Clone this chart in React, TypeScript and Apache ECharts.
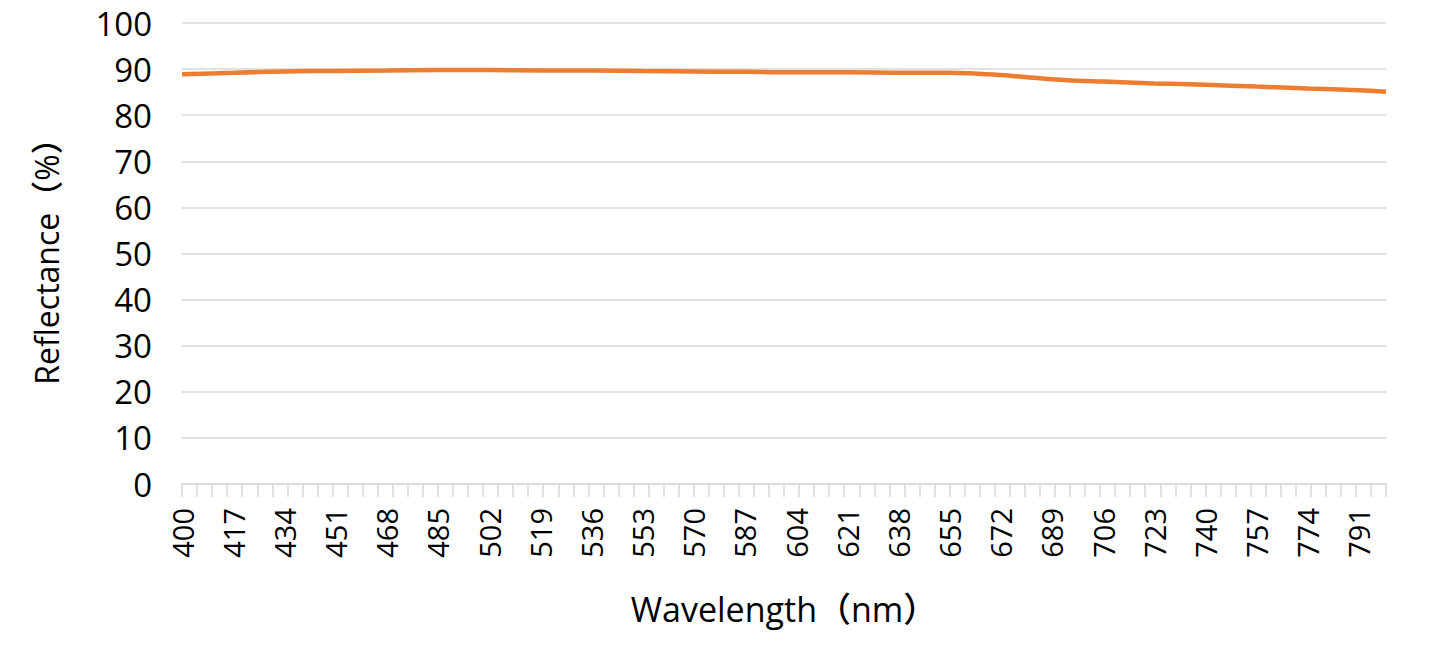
import React, { useEffect, useRef } from "react";
import * as echarts from "echarts";

const wavelengths: string[] = [];
for (let nm = 400; nm <= 800; nm++) wavelengths.push(String(nm));

const sampleNm = [400, 417, 434, 451, 468, 485, 502, 519, 536, 553, 570, 587, 604, 621, 638, 655, 672, 685, 694, 706, 723, 740, 757, 774, 791, 800];
const reflectance = [88.9, 89.2, 89.5, 89.6, 89.7, 89.8, 89.8, 89.7, 89.7, 89.6, 89.5, 89.4, 89.3, 89.3, 89.2, 89.2, 88.7, 88.0, 87.6, 87.3, 86.9, 86.6, 86.2, 85.8, 85.4, 85.1];

const yMin = 0;
const yMax = 100;
const yStep = 10;

export default function App() {
  const ref = useRef<HTMLDivElement>(null);
  useEffect(() => {
    if (!ref.current) return;
    const chart = echarts.init(ref.current, null, { renderer: "svg" });
    const font = "'Open Sans', 'Noto Sans CJK SC', sans-serif";
    chart.setOption({
      animation: false,
      backgroundColor: "#ffffff",
      grid: { left: 182, right: 52, top: 23, bottom: 166, containLabel: false },
      xAxis: {
        type: "category",
        data: wavelengths,
        boundaryGap: false,
        name: "Wavelength（nm）",
        nameLocation: "middle",
        nameGap: 108,
        nameTextStyle: { fontFamily: font, fontSize: 34, color: "#000000", fontWeight: 500 },
        axisLine: { show: true, lineStyle: { color: "#d9d9d9", width: 1.5 } },
        axisTick: { show: true, interval: 4, length: 13, lineStyle: { color: "#d9d9d9", width: 1.5 } },
        axisLabel: {
          interval: 16,
          rotate: 90,
          margin: 24,
          fontFamily: font,
          fontSize: 29,
          color: "#000000",
          fontWeight: 500,
        },
        splitLine: { show: false },
      },
      yAxis: {
        type: "value",
        min: yMin,
        max: yMax,
        interval: yStep,
        name: "Reflectance（%）",
        nameLocation: "middle",
        nameGap: 120,
        nameTextStyle: { fontFamily: font, fontSize: 32, color: "#000000", fontWeight: 500 },
        axisLine: { show: false },
        axisTick: { show: false },
        axisLabel: { margin: 30, fontFamily: font, fontSize: 33, color: "#000000", fontWeight: 500 },
        splitLine: { show: true, lineStyle: { color: "#d9d9d9", width: 1.5 } },
      },
      series: [
        {
          type: "line",
          data: sampleNm.map((nm, i) => [String(nm), reflectance[i]]),
          showSymbol: false,
          smooth: 0.3,
          lineStyle: { color: "#ED7D31", width: 4.5 },
          itemStyle: { color: "#ED7D31" },
        },
      ],
    });
    return () => chart.dispose();
  }, []);
  return <div ref={ref} style={{ width: 1438, height: 650, margin: -8 }} />;
}
